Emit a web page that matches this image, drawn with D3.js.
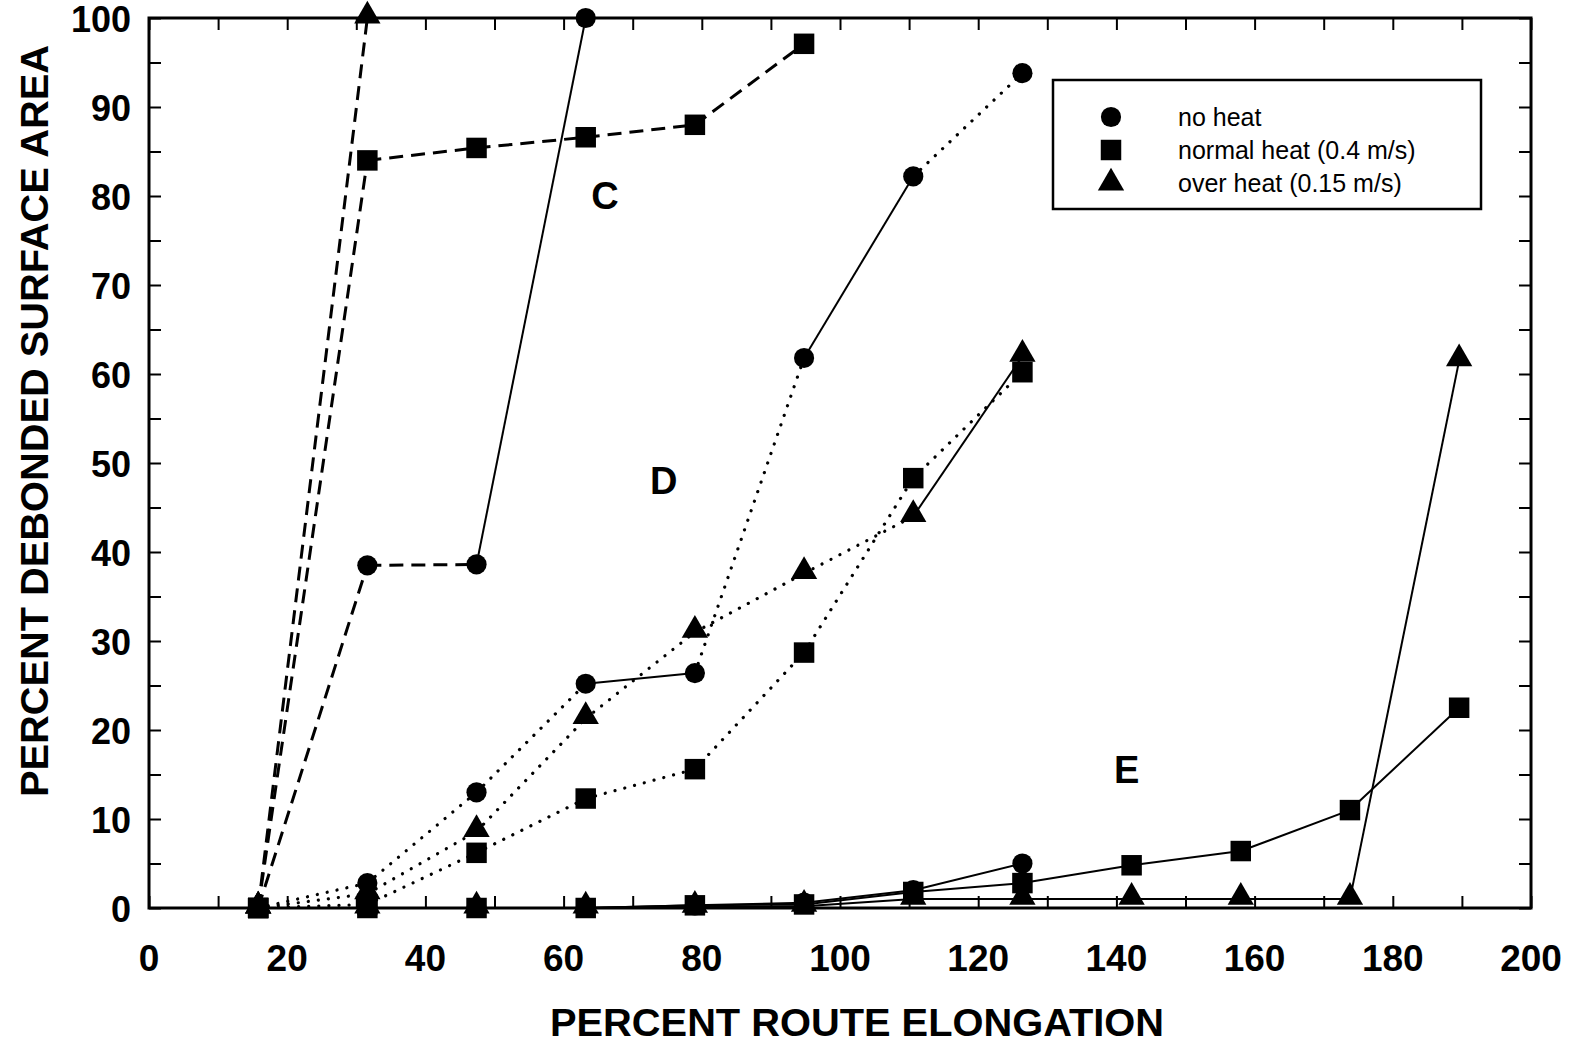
<!DOCTYPE html>
<html><head><meta charset="utf-8">
<script src="https://cdn.jsdelivr.net/npm/d3@7"></script>
<style>body{margin:0;background:#fff}svg{display:block}</style>
</head><body>
<svg id="chart" width="1574" height="1045"></svg>
<script>
// ---- data ----
const elongation = [15.8, 31.6, 47.4, 63.2, 79.0, 94.8, 110.6, 126.4, 142.2, 158.0, 173.8, 189.6];
const xTicks = [0, 20, 40, 60, 80, 100, 120, 140, 160, 180, 200];
const yTicks = [0, 10, 20, 30, 40, 50, 60, 70, 80, 90, 100];
const legendLabels = ["no heat", "normal heat (0.4 m/s)", "over heat (0.15 m/s)"];
const groupLabels = ["C", "D", "E"];

// group C (dashed)
const noHeatC = [0, 38.5, 38.6, 100];
const normalC = [0, 84.0, 85.4, 86.6, 88.0, 97.1];
const overC   = [0, 100];
// group D (dotted)
const noHeatD = [0, 2.8, 13.0, 25.2, 26.4, 61.8, 82.2, 93.8];
const normalD = [0, 0.4, 6.2, 12.3, 15.6, 28.7, 48.3, 60.2];
const overD   = [0, 1.6, 8.6, 21.3, 31.0, 37.6, 44.0, 62.0];
// group E (solid)
const noHeatE = [0, 0, 0, 0, 0.3, 0.6, 2.0, 5.0];
const normalE = [0, 0, 0, 0, 0.3, 0.4, 1.8, 2.8, 4.8, 6.4, 11.0, 22.5];
const overE   = [0, 0, 0, 0, 0.1, 0.2, 1.0, 1.0, 1.0, 1.0, 1.0, 61.5];

// segment line styles (one per segment)
const segC_no = ["dash", "dash", "solid"];
const segC_nm = ["dash", "dash", "dash", "dash", "dash"];
const segC_ov = ["dash"];
const segD_no = ["dot", "dot", "dot", "solid", "dot", "solid", "dot"];
const segD_nm = ["dot", "dot", "dot", "dot", "dot", "dot", "dot"];
const segD_ov = ["dot", "dot", "dot", "dot", "dot", "dot", "solid"];

const series = [
  {vals: noHeatC, marker: "circle", seg: segC_no},
  {vals: normalC, marker: "square", seg: segC_nm},
  {vals: overC, marker: "triangle", seg: segC_ov},
  {vals: noHeatD, marker: "circle", seg: segD_no},
  {vals: normalD, marker: "square", seg: segD_nm},
  {vals: overD, marker: "triangle", seg: segD_ov},
  {vals: noHeatE, marker: "circle", seg: null},
  {vals: normalE, marker: "square", seg: null},
  {vals: overE, marker: "triangle", seg: null}
];

// ---- layout ----
const L = 149, R = 1531, T = 18, B = 908;
const svg = d3.select("#chart");
const x = d3.scaleLinear().domain([0, 200]).range([L, R]);
const y = d3.scaleLinear().domain([0, 100]).range([B, T]);

const styles = {
  solid: {w: 2, dash: null},
  dash: {w: 3, dash: "14,8"},
  dot: {w: 3.2, dash: "0.1,10", cap: "round"}
};

// axes (ticks inward, on all four sides)
const tickLen = 12;
const gAx = svg.append("g");
gAx.append("g").attr("transform", `translate(0,${B})`)
  .call(d3.axisBottom(x).tickValues(d3.range(0, 201, 10)).tickSizeInner(-tickLen).tickSizeOuter(0).tickFormat(""));
gAx.append("g").attr("transform", `translate(0,${T})`)
  .call(d3.axisTop(x).tickValues(d3.range(0, 201, 10)).tickSizeInner(-tickLen).tickSizeOuter(0).tickFormat(""));
gAx.append("g").attr("transform", `translate(${L},0)`)
  .call(d3.axisLeft(y).tickValues(d3.range(0, 101, 5)).tickSizeInner(-tickLen).tickSizeOuter(0).tickFormat(""));
gAx.append("g").attr("transform", `translate(${R},0)`)
  .call(d3.axisRight(y).tickValues(d3.range(0, 101, 5)).tickSizeInner(-tickLen).tickSizeOuter(0).tickFormat(""));
gAx.selectAll(".domain").remove();
gAx.selectAll(".tick line").attr("stroke", "#000").attr("stroke-width", 2);

// frame
svg.append("rect").attr("x", L).attr("y", T).attr("width", R - L).attr("height", B - T)
  .attr("fill", "none").attr("stroke", "#000").attr("stroke-width", 3);

// tick labels
const font = "'Liberation Sans', Arial, Helvetica, sans-serif";
svg.append("g").selectAll("text").data(xTicks).join("text")
  .attr("x", d => x(d)).attr("y", 971).attr("text-anchor", "middle")
  .attr("font-family", font).attr("font-weight", "bold").attr("font-size", 37)
  .text(d => d);
svg.append("g").selectAll("text").data(yTicks).join("text")
  .attr("x", 131).attr("y", d => y(d) + 14).attr("text-anchor", "end")
  .attr("font-family", font).attr("font-weight", "bold").attr("font-size", 36)
  .text(d => d);

// axis titles
svg.append("text").attr("x", 857).attr("y", 1036).attr("text-anchor", "middle")
  .attr("font-family", font).attr("font-weight", "bold").attr("font-size", 39)
  .attr("textLength", 614).attr("lengthAdjust", "spacingAndGlyphs")
  .text("PERCENT ROUTE ELONGATION");
svg.append("text").attr("transform", "translate(48,421) rotate(-90)").attr("text-anchor", "middle")
  .attr("font-family", font).attr("font-weight", "bold").attr("font-size", 39)
  .attr("textLength", 752).attr("lengthAdjust", "spacingAndGlyphs")
  .text("PERCENT DEBONDED SURFACE AREA");

// lines
const gLines = svg.append("g");
series.forEach(s => {
  const pts = s.vals.map((v, i) => [elongation[i], v]);
  for (let i = 0; i < pts.length - 1; i++) {
    const st = styles[s.seg ? s.seg[i] : "solid"];
    gLines.append("line")
      .attr("x1", x(pts[i][0])).attr("y1", y(pts[i][1]))
      .attr("x2", x(pts[i + 1][0])).attr("y2", y(pts[i + 1][1]))
      .attr("stroke", "#000").attr("stroke-width", st.w)
      .attr("stroke-dasharray", st.dash)
      .attr("stroke-linecap", st.cap || "butt");
  }
});

// markers
const sym = {
  circle: d3.symbol().type(d3.symbolCircle).size(320),
  square: d3.symbol().type(d3.symbolSquare).size(420),
  triangle: d3.symbol().type(d3.symbolTriangle).size(300)
};
const gMarks = svg.append("g");
series.forEach(s => {
  gMarks.selectAll(null).data(s.vals.map((v, i) => [elongation[i], v])).join("path")
    .attr("transform", d => `translate(${x(d[0])},${y(d[1]) + (s.marker === "triangle" ? -2 : 0)})`)
    .attr("d", sym[s.marker]).attr("fill", "#000");
});

// group labels
const groupPos = [[66, 80], [74.5, 48], [141.5, 15.5]];
svg.append("g").selectAll("text").data(groupLabels).join("text")
  .attr("x", (d, i) => x(groupPos[i][0])).attr("y", (d, i) => y(groupPos[i][1]))
  .attr("text-anchor", "middle").attr("dominant-baseline", "central")
  .attr("font-family", font).attr("font-weight", "bold").attr("font-size", 38)
  .text(d => d);

// legend
const lg = svg.append("g");
lg.append("rect").attr("x", 1053).attr("y", 80).attr("width", 428).attr("height", 129)
  .attr("fill", "#fff").attr("stroke", "#000").attr("stroke-width", 2.5);
const legMarks = ["circle", "square", "triangle"];
legendLabels.forEach((t, i) => {
  const yy = 117 + i * 33;
  lg.append("path").attr("transform", `translate(1111,${yy})`).attr("d", sym[legMarks[i]]).attr("fill", "#000");
  lg.append("text").attr("x", 1178).attr("y", yy + 9).attr("font-family", font)
    .attr("font-size", 25).text(t);
});
</script>
</body></html>
